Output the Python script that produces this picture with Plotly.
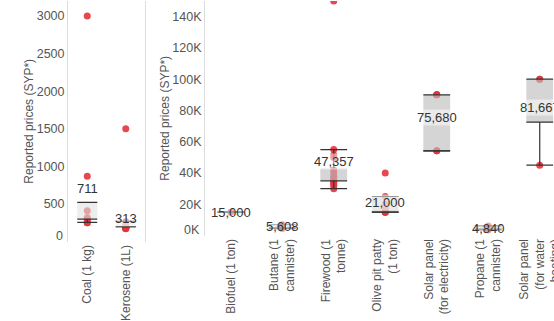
import plotly.graph_objects as go

# ---------------- data ----------------
left_cats = ["Coal (1 kg)", "Kerosene (1L)"]
left_points = [
    [3000, 868, 410, 320, 300, 290, 250, 250],
    [1500, 265, 210, 200, 190, 190, 183, 180, 180, 175, 170],
]
left_q1 = [300, 200]
left_q3 = [523, 270]
left_lo = [257, 198]
left_hi = [523, 270]
left_tickvals = [500, 1000, 1500, 2000, 2500, 3000]

right_cats = [
    "Biofuel (1 ton)",
    "Butane (1<br>cannister)",
    "Firewood (1<br>tonne)",
    "Olive pit patty<br>(1 ton)",
    "Solar panel<br>(for electricity)",
    "Propane (1<br>cannister)",
    "Solar panel<br>(for water<br>heating)",
]
right_points = [
    [15000],
    [4500, 5000, 5608, 6000, 6932],
    [150000, 55000, 51500, 50000, 42000, 40000, 38000, 37000, 35000, 35000, 34500, 33000, 32000, 30000],
    [40000, 25000, 20000, 17000, 15000, 15000, 15000],
    [54200, 54200, 90000, 90000, 90000],
    [3600, 4200, 4840, 5400, 6160],
    [45000, 100000, 100000],
]
right_q1 = [15000, 5000, 35000, 15000, 54200, 4200, 72500]
right_q3 = [15000, 6000, 43000, 25000, 90000, 5400, 100000]
right_lo = [15000, 4500, 30000, 15000, 54200, 3600, 45000]
right_hi = [15000, 6932, 55000, 25000, 90000, 6160, 100000]
right_tickvals = [20000, 40000, 60000, 80000, 100000, 120000, 140000]

# ---------------- style ----------------
FONT = "Liberation Sans, Arial, sans-serif"
RED = "rgba(228,52,60,0.9)"
LINE = "#333333"
HALF = 0.26
TXT = "#555555"

fig = go.Figure()
annotations = []


def add_panel(xa, ya, cats, points, q1, q3, lo, hi, box_fill):
    xs, ys = [], []
    for i, pts in enumerate(points):
        xs += [i] * len(pts)
        ys += pts
    fig.add_trace(go.Scatter(x=xs, y=ys, mode="markers", xaxis=xa, yaxis=ya,
                             marker=dict(color=RED, size=7), hoverinfo="skip"))
    for i in range(len(cats)):
        fig.add_trace(go.Scatter(
            x=[i - HALF, i + HALF, i + HALF, i - HALF, i - HALF],
            y=[q1[i], q1[i], q3[i], q3[i], q1[i]],
            mode="lines", fill="toself", fillcolor=box_fill,
            line=dict(width=0), xaxis=xa, yaxis=ya, hoverinfo="skip"))
    lx, ly = [], []
    for i in range(len(cats)):
        lx += [i, i, None, i, i, None]
        ly += [lo[i], q1[i], None, q3[i], hi[i], None]
        for v in (lo[i], q1[i], hi[i]):
            lx += [i - HALF, i + HALF, None]
            ly += [v, v, None]
    fig.add_trace(go.Scatter(x=lx, y=ly, mode="lines", xaxis=xa, yaxis=ya,
                             line=dict(color=LINE, width=1.2), hoverinfo="skip"))
    xref = "x" if xa == "x" else "x2"
    yref = "y" if ya == "y" else "y2"
    for i, pts in enumerate(points):
        m = sum(pts) / len(pts)
        annotations.append(dict(x=i, y=m, xref=xref, yref=yref, text=f"{round(m):,}",
                                showarrow=False, bgcolor="rgba(255,255,255,0.5)",
                                borderpad=0, font=dict(size=13, color="#333333", family=FONT)))


add_panel("x", "y", left_cats, left_points, left_q1, left_q3, left_lo, left_hi,
          "rgba(225,225,225,0.6)")
add_panel("x2", "y2", right_cats, right_points, right_q1, right_q3, right_lo, right_hi,
          "rgba(190,190,190,0.65)")

# flush zero labels (bottom tick labels kept inside the axis extent)
annotations.append(dict(x=0, y=0, xref="x domain", yref="y", text="0", showarrow=False,
                        xanchor="right", yanchor="bottom", xshift=-3, yshift=-3,
                        font=dict(size=12.5, color=TXT, family=FONT)))
annotations.append(dict(x=0, y=0, xref="x2 domain", yref="y2", text="0K", showarrow=False,
                        xanchor="right", yanchor="bottom", xshift=-3, yshift=-3,
                        font=dict(size=12.5, color=TXT, family=FONT)))

W, H = 554, 321
axis_common = dict(showgrid=False, zeroline=False, ticks="", automargin=False)
title_font = dict(size=12, color=TXT, family=FONT)

fig.update_layout(
    template="none",
    width=W, height=H,
    margin=dict(l=0, r=0, t=0, b=0, autoexpand=False),
    showlegend=False,
    plot_bgcolor="white", paper_bgcolor="white",
    font=dict(family=FONT, color=TXT),
    annotations=annotations,
    xaxis=dict(domain=[68 / W, 145 / W], range=[-0.5, 1.5], anchor="y",
               tickvals=list(range(len(left_cats))), ticktext=left_cats, tickangle=-90,
               ticklabeloverflow="allow",
               showline=False, tickfont=dict(size=12, color=TXT), **axis_common),
    yaxis=dict(domain=[(H - 241.6) / H, 1 - 1 / H], range=[0, 3200], anchor="x",
               tickvals=left_tickvals, ticktext=[str(v) for v in left_tickvals],
               showline=True, linecolor="#dddddd", mirror=True,
               tickfont=dict(size=12.5, color=TXT),
               title=dict(text="Reported prices (SYP*)", font=title_font, standoff=0),
               **axis_common),
    xaxis2=dict(domain=[205 / W, 1.0], range=[-0.5, 6.277], anchor="y2",
                tickvals=list(range(len(right_cats))), ticktext=right_cats, tickangle=-90,
                ticklabeloverflow="allow",
                showline=False, tickfont=dict(size=12, color=TXT), **axis_common),
    yaxis2=dict(domain=[(H - 235.6) / H, 1 - 1 / H], range=[0, 150000], anchor="x2",
                tickvals=right_tickvals, ticktext=[f"{v // 1000}K" for v in right_tickvals],
                showline=True, linecolor="#dddddd", mirror=False,
                tickfont=dict(size=12.5, color=TXT),
                title=dict(text="Reported prices (SYP*)", font=title_font, standoff=0),
                **axis_common),
)

fig.write_html(
    "out.html",
    config={"displayModeBar": False},
    post_script="document.body.style.margin='0';document.body.style.overflow='hidden';",
)
